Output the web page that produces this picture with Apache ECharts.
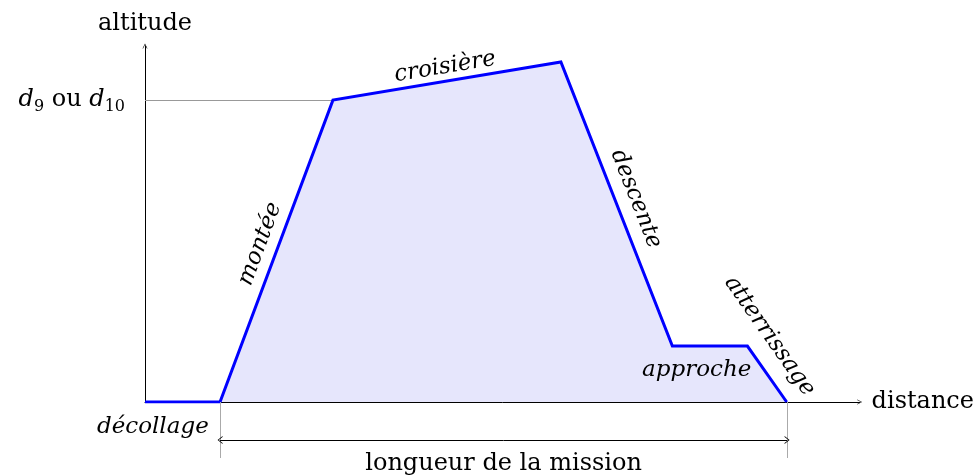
<!DOCTYPE html>
<html>
<head>
<meta charset="utf-8">
<script src="https://cdn.jsdelivr.net/npm/echarts@6/dist/echarts.min.js"></script>
<style>html,body{margin:0;padding:0;background:#fff}#c{width:977px;height:476px}</style>
</head>
<body>
<div id="c"></div>
<script>
// Mission profile (arbitrary units: distance 0..100, altitude 0..100)
const profileX = [0, 10.5, 26.3, 58.2, 73.8, 84.3, 89.8];
const profileY = [0, 0, 84.8, 95.5, 15.7, 15.7, 0];
const cruiseLevel = 84.8;          // d9 ou d10
const missionStart = 10.5, missionEnd = 89.8;

// phase annotations
const annotText = ['montée', 'croisière', 'descente', 'approche', 'atterrissage'];
const annotX    = [16.1, 42.0, 68.7, 77.2, 87.4];
const annotY    = [44.4, 94.1, 57.0, 9.0, 18.5];
const annotRot  = [69.5, 9.5, -68.4, 0, -55];

const FONT = 'DejaVu Serif';
const ARROW = 'path://M0,10 L5,0 L10,10 L8.8,10 L5,2.4 L1.2,10 Z';

const chart = echarts.init(document.getElementById('c'), null, {renderer: 'canvas'});
const hidden = {show: false};
chart.setOption({
  animation: false,
  textStyle: {fontFamily: FONT, color: '#000'},
  grid: [
    {left: 145, right: 117, top: 46, bottom: 74},
    {left: 145, right: 117, top: 402, bottom: 18}
  ],
  xAxis: [
    {type: 'value', gridIndex: 0, min: 0, max: 100,
     axisLine: {show: true, lineStyle: {color: '#000', width: 1}, symbol: ['none', ARROW], symbolSize: [8, 5]},
     axisTick: hidden, axisLabel: hidden, splitLine: hidden,
     name: 'distance', nameLocation: 'end', nameGap: 12,
     nameTextStyle: {fontFamily: FONT, fontSize: 24, color: '#000', verticalAlign: 'middle'}},
    {type: 'value', gridIndex: 1, min: 0, max: 100, show: false}
  ],
  yAxis: [
    {type: 'value', gridIndex: 0, min: 0, max: 100,
     axisLine: {show: true, lineStyle: {color: '#000', width: 1}, symbol: ['none', ARROW], symbolSize: [8, 5]},
     axisTick: hidden, axisLabel: hidden, splitLine: hidden,
     name: 'altitude', nameLocation: 'end', nameGap: 10,
     nameTextStyle: {fontFamily: FONT, fontSize: 24, color: '#000', align: 'center'}},
    {type: 'value', gridIndex: 1, min: 0, max: 56, show: false}
  ],
  series: [
    {
      type: 'line', xAxisIndex: 0, yAxisIndex: 0,
      data: profileX.map((x, i) => [x, profileY[i]]),
      symbol: 'none', z: 3,
      lineStyle: {color: '#0000ff', width: 3, join: 'miter'},
      areaStyle: {color: '#e6e6fc', opacity: 1},
      markLine: {
        silent: true, symbol: 'none', z: 1,
        lineStyle: {color: '#999', width: 1, type: 'solid'},
        label: {
          show: true, position: 'start', distance: 20,
          formatter: '{it|d}{sub|9}{n| ou }{it|d}{sub|10}',
          rich: {
            it: {fontFamily: FONT, fontStyle: 'italic', fontSize: 24, lineHeight: 30, verticalAlign: 'middle', color: '#000'},
            n: {fontFamily: FONT, fontSize: 24, lineHeight: 30, verticalAlign: 'middle', color: '#000'},
            sub: {fontFamily: FONT, fontSize: 16, lineHeight: 18, verticalAlign: 'bottom', color: '#000'}
          }
        },
        data: [[{coord: [0, cruiseLevel]}, {coord: [profileX[2], cruiseLevel]}]]
      }
    },
    {
      type: 'scatter', xAxisIndex: 0, yAxisIndex: 0, symbolSize: 0, z: 5, silent: true,
      itemStyle: {opacity: 1},
      data: annotText.map((t, i) => ({value: [annotX[i], annotY[i]], name: t, label: {rotate: annotRot[i]}})),
      label: {show: true, position: 'inside', formatter: p => p.name,
              fontFamily: FONT, fontStyle: 'italic', fontSize: 23, color: '#000'}
    },
    {
      type: 'scatter', xAxisIndex: 1, yAxisIndex: 1, symbolSize: 0, silent: true,
      itemStyle: {opacity: 1},
      data: [{value: [1.1, 31], name: 'décollage'}],
      label: {show: true, position: 'inside', formatter: p => p.name,
              fontFamily: FONT, fontStyle: 'italic', fontSize: 23, color: '#000'},
      markLine: {
        silent: true, symbol: 'none',
        lineStyle: {color: '#aaa', width: 1, type: 'solid'},
        label: {show: false},
        data: [{xAxis: missionStart}, {xAxis: missionEnd}]
      }
    },
    {
      type: 'line', xAxisIndex: 1, yAxisIndex: 1, data: [], symbol: 'none',
      markLine: {
        silent: true, symbol: [ARROW, ARROW], symbolSize: [8, 5],
        lineStyle: {color: '#000', width: 1, type: 'solid'},
        label: {show: true, position: 'insideMiddleBottom', distance: 12,
                formatter: 'longueur de la mission', fontFamily: FONT, fontSize: 24, color: '#000'},
        data: [[{coord: [missionStart, 18]}, {coord: [missionEnd, 18]}]]
      }
    }
  ]
});
</script>
</body>
</html>
